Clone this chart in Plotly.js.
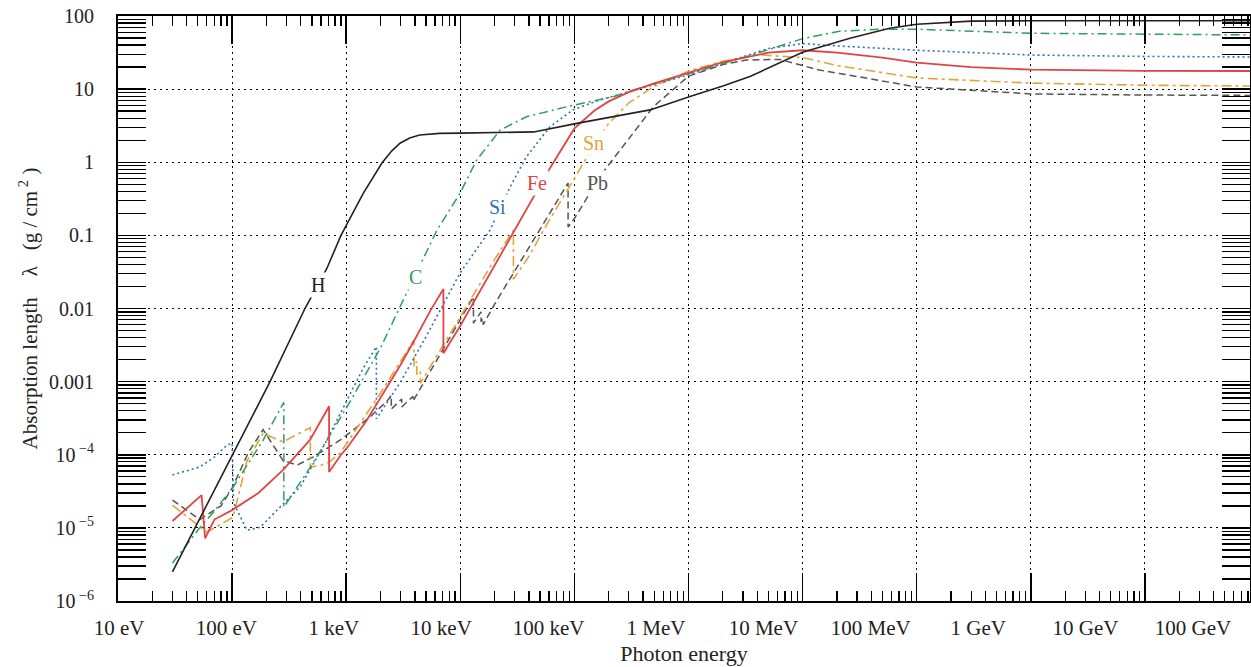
<!DOCTYPE html>
<html>
<head>
<meta charset="utf-8">
<script src="https://cdn.plot.ly/plotly-3.0.1.min.js"></script>
<style>
  html, body { margin: 0; padding: 0; background: #fff; }
  #chart { width: 1251px; height: 667px; }
</style>
</head>
<body>
<div id="chart"></div>
<script>
// Photon mass attenuation length vs photon energy (energies in eV, lengths in g/cm^2)

const energyH = [30, 100, 215, 435, 675, 900, 1410, 2050, 2500, 2960, 3600, 4400, 6600, 1e4, 4.4e4, 1.05e5, 2e5, 4.6e5, 1.03e6, 2e6, 3.5e6, 1e7, 2.6e7, 5.8e7, 1e8, 3e8, 1e9, 1e10, 1e11];
const lambdaH = [2.5e-6, 1e-4, 1e-3, 0.01, 0.035, 0.1, 0.376, 0.97, 1.42, 1.82, 2.15, 2.36, 2.48, 2.5, 2.6, 3.4, 4.1, 5.2, 7.9, 11, 15, 32, 49.5, 68, 77, 85, 86, 86, 86];

const energyC = [30, 52, 70, 102, 187, 284, 284, 512, 1016, 2000, 3000, 6250, 9930, 13900, 22300, 38000, 85500, 2.19e5, 3.28e5, 4.3e5, 1e6, 3.2e6, 1e7, 2.1e7, 5e7, 1e8, 1e9, 1e10, 1e11];
const lambdaC = [3.3e-6, 1.0e-5, 1.7e-5, 3.6e-5, 1.58e-4, 5.2e-4, 1.92e-5, 7.7e-5, 4.5e-4, 2.9e-3, 0.011, 0.118, 0.375, 1.07, 2.75, 4.19, 5.74, 7.87, 9.7, 11, 16, 27.7, 49, 62, 66, 66, 58, 56, 55];

const energySi = [30, 52, 70, 90, 100, 103, 135, 176, 263, 393, 680, 1016, 1400, 1839, 1839, 3000, 5000, 10000, 18200, 27300, 38000, 61000, 97000, 1.67e5, 3e5, 5e5, 1e6, 2e6, 5e6, 1e7, 2e7, 1e8, 1e9, 1e10, 1e11];
const lambdaSi = [5.3e-5, 6.8e-5, 9.3e-5, 1.35e-4, 1.44e-4, 2.2e-5, 9.3e-6, 1.02e-5, 1.92e-5, 3.6e-5, 1.6e-4, 5.5e-4, 1.5e-3, 3.0e-3, 3.1e-4, 1.0e-3, 4.1e-3, 0.031, 0.118, 0.46, 1.19, 3.06, 5.2, 7.1, 9.2, 11.4, 15.7, 22.4, 36, 42, 39, 34, 29.3, 28, 27.5];

const energyFe = [30, 54, 58, 70, 100, 170, 280, 480, 708, 708, 900, 1000, 1500, 2000, 3000, 4000, 5500, 7112, 7112, 10000, 20000, 28000, 41700, 61000, 1e5, 1.5e5, 2e5, 3e5, 5e5, 1e6, 2e6, 5e6, 1e7, 2e7, 5e7, 1e8, 3e8, 1e9, 1e10, 1e11];
const lambdaFe = [1.24e-5, 2.8e-5, 7.2e-6, 1.3e-5, 1.75e-5, 3.0e-5, 6.2e-5, 1.58e-4, 4.6e-4, 5.8e-5, 1.0e-4, 1.2e-4, 2.9e-4, 6.0e-4, 1.7e-3, 3.8e-3, 9.5e-3, 0.0185, 0.00245, 0.0058, 0.039, 0.096, 0.30, 0.83, 2.9, 5.1, 6.8, 9.1, 12, 16.7, 23.4, 31.5, 34, 31.5, 27, 23, 20, 18.5, 17.8, 17.7];

const energySn = [30, 50, 60, 102, 135, 187, 279, 485, 485, 600, 714, 884, 1016, 2000, 3929, 3929, 4156, 4156, 4465, 4465, 10000, 20000, 29200, 29200, 40000, 60000, 1e5, 1.2e5, 2e5, 3e5, 4.9e5, 1.03e6, 2e6, 4e6, 1e7, 2e7, 1e8, 1e9, 1e10, 1e11];
const lambdaSn = [2.04e-5, 1.1e-5, 8.7e-6, 1.4e-5, 8.2e-5, 1.96e-4, 1.5e-4, 2.35e-4, 6.8e-5, 7.2e-5, 8.0e-5, 1.05e-4, 1.45e-4, 7.0e-4, 3.7e-3, 1.6e-3, 1.9e-3, 1.25e-3, 1.4e-3, 9.5e-4, 7.7e-3, 0.047, 0.118, 0.025, 0.052, 0.16, 0.6, 0.98, 3.4, 6.5, 10.7, 18, 24, 29.5, 27, 21, 14.2, 12.1, 11.3, 11.0];

const energyPb = [30, 52, 80, 100, 140, 187, 279, 371, 512, 883, 1620, 2300, 2484, 2484, 3066, 3066, 3851, 3851, 13040, 13040, 15200, 15200, 15860, 15860, 20000, 30000, 50000, 88000, 88000, 1e5, 1.67e5, 1.93e5, 3.27e5, 4.89e5, 1e6, 2e6, 3.2e6, 6.3e6, 1.4e7, 2.1e7, 1e8, 1e9, 1e10, 1e11];
const lambdaPb = [2.4e-5, 1.3e-5, 2.0e-5, 3.5e-5, 1.1e-4, 2.2e-4, 8.4e-5, 7.2e-5, 9.3e-5, 1.58e-4, 3.3e-4, 5.5e-4, 6.5e-4, 4.2e-4, 5.8e-4, 4.5e-4, 6.3e-4, 5.4e-4, 0.0145, 0.0063, 0.0090, 0.0066, 0.0073, 0.0060, 0.0115, 0.033, 0.12, 0.52, 0.13, 0.17, 0.63, 0.86, 2.5, 5.7, 15, 21.7, 25, 25.5, 18.2, 16.4, 10.7, 8.6, 8.3, 8.2];

const xTickVals = [1e1, 1e2, 1e3, 1e4, 1e5, 1e6, 1e7, 1e8, 1e9, 1e10, 1e11];
const xTickText = ['10 eV', '100 eV', '1 keV', '10 keV', '100 keV', '1 MeV', '10 MeV', '100 MeV', '1 GeV', '10 GeV', '100 GeV'];
const yTickVals = [1e-6, 1e-5, 1e-4, 1e-3, 1e-2, 1e-1, 1, 10, 100];
const yTickText = ['10<sup> −6</sup>', '10<sup> −5</sup>', '10<sup> −4</sup>', '0.001', '0.01', '0.1', '1', '10', '100'];

const elementNames = ['H', 'C', 'Si', 'Fe', 'Sn', 'Pb'];
const elementColors = ['#222222', '#2e9e5b', '#2f6fb8', '#e04545', '#e3a33a', '#555555'];

const SERIF = 'Liberation Serif, Times New Roman, serif';

function curve(x, y, color, dash, width) {
  return {
    x: x, y: y, type: 'scatter', mode: 'lines',
    line: { color: color, dash: dash, width: width },
    hoverinfo: 'skip'
  };
}

const traces = [
  curve(energyPb, lambdaPb, elementColors[5], '7px,4px', 1.5),
  curve(energySn, lambdaSn, elementColors[4], '10px,4px,3px,4px', 1.6),
  curve(energySi, lambdaSi, elementColors[2], '2px,3px', 1.6),
  curve(energyC, lambdaC, elementColors[1], '9px,4px,2px,4px', 1.5),
  curve(energyFe, lambdaFe, elementColors[3], 'solid', 1.8),
  curve(energyH, lambdaH, elementColors[0], 'solid', 1.6),
  // empty carrier for the energy-label axis (draws nothing)
  { x: xTickVals, y: xTickVals.map(() => null), xaxis: 'x2', yaxis: 'y',
    type: 'scatter', mode: 'lines', hoverinfo: 'skip', line: { width: 0 } }
];

// label anchor points in log10 units of the axes
const labelLogE = [2.753, 3.603, 4.322, 4.672, 5.163, 5.198];
const labelLogL = [-1.68, -1.57, -0.613, -0.285, 0.263, -0.285];

const annotations = elementNames.map((name, i) => ({
  x: labelLogE[i], y: labelLogL[i], xref: 'x', yref: 'y',
  text: name, showarrow: false,
  font: { family: SERIF, size: 20, color: elementColors[i] },
  bgcolor: 'white', borderpad: 1
}));

const layout = {
  width: 1251, height: 667,
  margin: { l: 118, r: 1, t: 16, b: 66, pad: 0 },
  paper_bgcolor: 'white', plot_bgcolor: 'white',
  showlegend: false,
  font: { family: SERIF, size: 19, color: '#222' },
  xaxis: {
    type: 'log', range: [1, 10.921], dtick: 1, tick0: 0,
    showticklabels: false,
    ticks: 'inside', ticklen: 28, tickwidth: 1.5, tickcolor: '#000',
    mirror: 'allticks', showline: true, linecolor: '#000', linewidth: 2,
    showgrid: true, gridcolor: '#000', gridwidth: 1, griddash: '2px,4px',
    zeroline: false,
    minor: { ticks: 'inside', ticklen: 10, tickwidth: 1.3, tickcolor: '#000', dtick: 'D1', showgrid: false }
  },
  xaxis2: {
    type: 'log', overlaying: 'x', anchor: 'y', side: 'bottom',
    range: [0.9907, 11.531],
    tickmode: 'array', tickvals: xTickVals, ticktext: xTickText,
    ticks: '', showline: false, showgrid: false, zeroline: false,
    ticklabelstandoff: 12,
    tickfont: { family: SERIF, size: 21, color: '#222' },
    title: { text: 'Photon energy', font: { family: SERIF, size: 22, color: '#222' }, standoff: 6 }
  },
  yaxis: {
    type: 'log', range: [-6, 2],
    tickmode: 'array', tickvals: yTickVals, ticktext: yTickText,
    ticks: 'inside', ticklen: 28, tickwidth: 1.5, tickcolor: '#000',
    mirror: 'allticks', showline: true, linecolor: '#000', linewidth: 2,
    showgrid: true, gridcolor: '#000', gridwidth: 1, griddash: '2px,4px',
    zeroline: false,
    ticklabelstandoff: 18,
    tickfont: { family: SERIF, size: 20, color: '#222' },
    minor: { ticks: 'inside', ticklen: 10, tickwidth: 1.3, tickcolor: '#000', dtick: 'D1', showgrid: false },
    title: { text: 'Absorption length&nbsp;&nbsp;&nbsp;&nbsp;λ&nbsp;&nbsp;&nbsp;(g / cm<sup> 2</sup> )', font: { family: SERIF, size: 21, color: '#222' }, standoff: 6 }
  },
  annotations: annotations
};

Plotly.newPlot('chart', traces, layout, { displayModeBar: false, staticPlot: true });
</script>
</body>
</html>
